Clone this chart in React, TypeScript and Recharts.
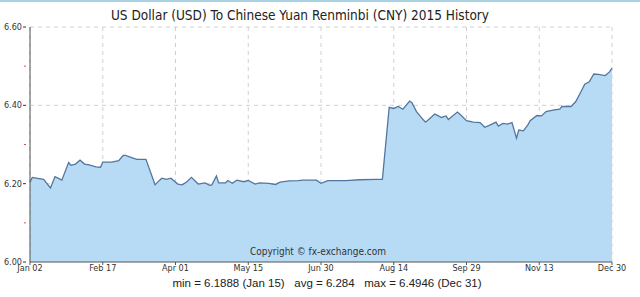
import React from "react";
import {
  AreaChart,
  Area,
  XAxis,
  YAxis,
  CartesianGrid,
} from "recharts";

// trading-day index (0 = Jan 02, 256 = Dec 30) and USD/CNY rate
const dayIndex = [
  0, 1, 4, 6, 9, 11, 14, 17, 18, 20, 22, 24, 26, 29, 31, 32, 36, 39, 41, 42,
  45, 47, 51, 55, 57, 58, 60, 62, 65, 67, 69, 71, 74, 77, 79, 80, 82, 83, 86,
  87, 89, 91, 94, 96, 99, 101, 105, 108, 110, 114, 118, 120, 124, 126, 128,
  131, 134, 139, 145, 152, 155, 158, 160, 162, 164, 167, 168, 170, 173, 174,
  176, 178, 179, 181, 183, 184, 188, 189, 192, 195, 198, 200, 202, 205, 206,
  208, 210, 212, 214, 215, 217, 219, 220, 223, 225, 227, 230, 233, 234, 238,
  240, 242, 244, 246, 248, 250, 253, 255, 256,
];

const rates = [
  6.204, 6.216, 6.213, 6.211, 6.189, 6.218, 6.209, 6.254, 6.247, 6.25, 6.26,
  6.25, 6.248, 6.243, 6.242, 6.255, 6.255, 6.259, 6.272, 6.272, 6.266, 6.262,
  6.262, 6.197, 6.209, 6.214, 6.211, 6.214, 6.199, 6.197, 6.205, 6.216, 6.199,
  6.202, 6.196, 6.197, 6.22, 6.202, 6.202, 6.208, 6.201, 6.209, 6.205, 6.208,
  6.199, 6.202, 6.201, 6.198, 6.204, 6.207, 6.208, 6.209, 6.209, 6.209, 6.201,
  6.208, 6.208, 6.208, 6.21, 6.211, 6.211, 6.395, 6.392, 6.397, 6.39, 6.411,
  6.407, 6.384, 6.363, 6.357, 6.367, 6.378, 6.375, 6.369, 6.373, 6.364, 6.383,
  6.378, 6.361, 6.357, 6.356, 6.344, 6.349, 6.357, 6.347, 6.354, 6.352, 6.356,
  6.316, 6.337, 6.335, 6.35, 6.361, 6.374, 6.373, 6.384, 6.388, 6.39, 6.397,
  6.397, 6.409, 6.431, 6.454, 6.46, 6.48, 6.479, 6.476, 6.486, 6.495,
];

const xTicks = [0, 32, 64, 96, 128, 160, 192, 224, 256];
const xTickLabels = [
  "Jan 02", "Feb 17", "Apr 01", "May 15", "Jun 30", "Aug 14", "Sep 29", "Nov 13", "Dec 30",
];
const yTicks = [6.0, 6.1, 6.2, 6.3, 6.4, 6.5, 6.6];

const data = dayIndex.map((d, i) => ({ day: d, rate: rates[i] }));

const tickFont = "'Liberation Sans Narrow', 'DejaVu Sans Condensed', sans-serif";

// major ticks get a label, the in-between ones just a small red mark
const YTick = (props: any) => {
  const { x, y, payload } = props;
  const major = Math.round(payload.value * 10) % 2 === 0;
  if (!major) {
    return <line x1={x + 2} x2={x + 4} y1={y} y2={y} stroke="#d9534f" strokeWidth={1} />;
  }
  return (
    <g>
      <line x1={x + 1} x2={x + 4} y1={y} y2={y} stroke="#333" strokeWidth={1} />
      <text x={x} y={y + 3} textAnchor="end" fontSize={9} fill="#333" fontFamily={tickFont}>
        {payload.value.toFixed(2)}
      </text>
    </g>
  );
};

const App = () => {
  return (
    <div
      style={{
        position: "absolute",
        left: 0,
        top: 0,
        width: 640,
        height: 297,
        background: "#fff",
        borderTop: "2px solid #a9d3e4",
        boxSizing: "border-box",
      }}
    >
      <div
        style={{
          position: "absolute",
          left: 0,
          top: 5,
          width: 600,
          textAlign: "center",
          fontFamily: "'DejaVu Sans Condensed', sans-serif",
          fontSize: 13.5,
          color: "#222",
        }}
      >
        US Dollar (USD) To Chinese Yuan Renminbi (CNY) 2015 History
      </div>
      <div style={{ position: "absolute", left: 0, top: -2 }}>
        <AreaChart
          width={640}
          height={297}
          data={data}
          margin={{ top: 27, right: 28, left: 0, bottom: 0 }}
        >
          <CartesianGrid
            stroke="#d0d0d0"
            strokeDasharray="4 4"
            horizontalValues={[6.2, 6.4, 6.6]}
            verticalValues={xTicks}
          />
          <XAxis
            dataKey="day"
            type="number"
            domain={[0, 256]}
            ticks={xTicks}
            tickFormatter={(v: number) => xTickLabels[xTicks.indexOf(v)]}
            height={35}
            tick={{ fontSize: 9, fill: "#333", fontFamily: tickFont }}
            tickSize={3}
            tickMargin={0}
            axisLine={{ stroke: "#555" }}
            tickLine={{ stroke: "#555" }}
          />
          <YAxis
            type="number"
            domain={[6.0, 6.6]}
            ticks={yTicks}
            width={30}
            tick={<YTick />}
            tickLine={false}
            axisLine={{ stroke: "#555" }}
            interval={0}
          />
          <Area
            type="linear"
            dataKey="rate"
            stroke="#52769f"
            strokeWidth={1.3}
            fill="#b8dbf5"
            fillOpacity={1}
            isAnimationActive={false}
            dot={false}
            activeDot={false}
          />
        </AreaChart>
      </div>
      <div
        style={{
          position: "absolute",
          left: 0,
          top: 244,
          width: 636,
          textAlign: "center",
          fontFamily: tickFont,
          fontSize: 10,
          color: "#333",
        }}
      >
        Copyright © fx-exchange.com
      </div>
      <div
        style={{
          position: "absolute",
          left: 0,
          top: 275,
          width: 654,
          textAlign: "center",
          fontFamily: "'Liberation Sans', Arial, sans-serif",
          fontSize: 11.5,
          color: "#222",
          whiteSpace: "pre",
        }}
      >
        {"min = 6.1888 (Jan 15)   avg = 6.284   max = 6.4946 (Dec 31)"}
      </div>
    </div>
  );
};

export default App;
